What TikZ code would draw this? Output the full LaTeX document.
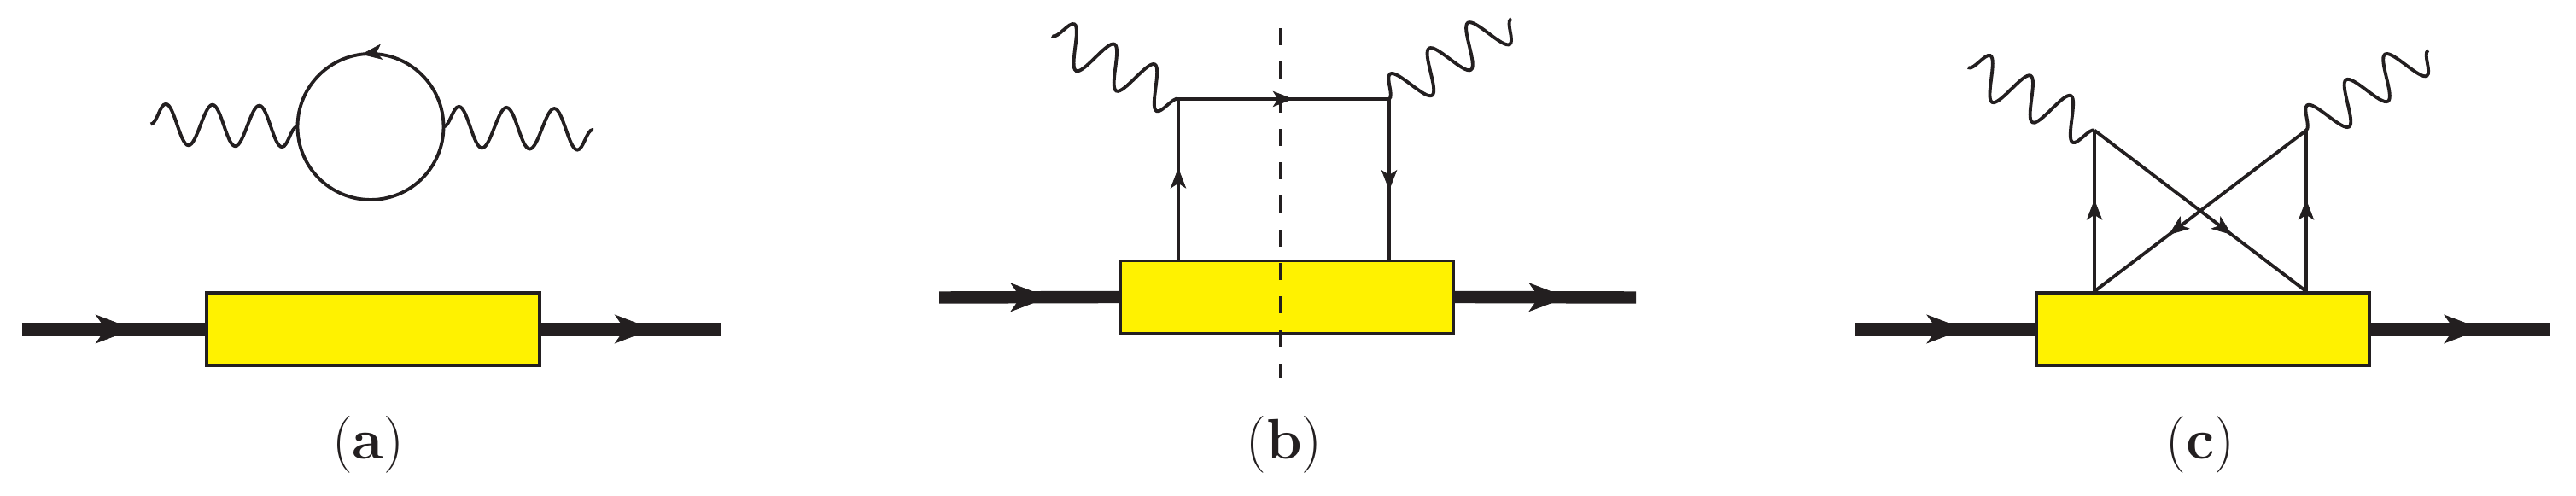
\documentclass[tikz,border=0pt]{standalone}
\usepackage{xcolor}
\usepackage{tikz}
\usetikzlibrary{arrows.meta,decorations.pathmorphing,decorations.markings}
\definecolor{inkblack}{RGB}{35,31,32}
\definecolor{blobyellow}{RGB}{255,242,0}
\tikzset{
  fermion/.style={draw=inkblack, line width=1.1pt, postaction={decorate},
    decoration={markings, mark=at position #1 with {\arrow{Stealth[length=2.4mm,width=1.85mm,inset=0.6mm,line width=0.2pt]}}}},
  fermion/.default=0.57,
  heavy/.style={draw=inkblack, line width=4.1pt, postaction={decorate},
    decoration={markings, mark=at position #1 with {\arrow{Stealth[length=4.5mm,width=3.4mm,inset=1.2mm,line width=0.2pt]}}}},
  heavy/.default=0.61,
  photon/.style={draw=inkblack, line width=1.1pt, decorate,
    decoration={snake, amplitude=2.4mm, segment length=#1}},
  blob/.style={draw=inkblack, line width=1pt, fill=blobyellow,
    minimum width=3.9cm, minimum height=0.85cm, inner sep=0pt},
  cut/.style={draw=inkblack, line width=0.95pt, dash pattern=on 2mm off 1.93mm},
  caption/.style={font=\fontsize{19}{23}\selectfont, text=inkblack}
}
\begin{document}
\begin{tikzpicture}
\useasboundingbox (0,0) rectangle (30.17,5.81);
% (a) photon self energy
\coordinate (inA) at (0.26,1.955);
\coordinate (outA) at (8.45,1.955);
\coordinate (vA1) at (3.485,4.325);
\coordinate (vA2) at (5.195,4.325);
\coordinate (pA1) at (1.766,4.355);
\coordinate (pA2) at (6.95,4.29);
\node[blob] (boxA) at (4.37,1.955) {};
\draw[heavy] (inA) -- (boxA.west);
\draw[heavy=0.62] (boxA.east) -- (outA);
\draw[fermion=0.27] (vA2) arc[start angle=0, end angle=360, radius=0.855];
\draw[photon=5.48mm] (pA1) -- (vA1);
\draw[photon=5.59mm] (vA2) -- (pA2);
\node[caption] (labA) at (4.31,0.60) {(\textbf{a})};
% (b) direct graph with cut
\coordinate (inB) at (11.0,2.325);
\coordinate (outB) at (19.16,2.325);
\coordinate (vB1) at (13.80,4.65);
\coordinate (vB2) at (16.27,4.65);
\coordinate (pB1) at (12.32,5.39);
\coordinate (pB2) at (17.70,5.59);
\node[blob] (boxB) at (15.07,2.33) {};
\draw[heavy] (inB) -- (boxB.west);
\draw[heavy=0.62] (boxB.east) -- (outB);
\draw[fermion] (vB1 |- boxB.north) -- (vB1);
\draw[fermion=0.545] (vB1) -- (vB2);
\draw[fermion] (vB2) -- (vB2 |- boxB.north);
\draw[photon=5.27mm] (vB1) -- (pB1);
\draw[photon=5.45mm] (vB2) -- (pB2);
\coordinate (cutTop) at (15.0,5.48);
\coordinate (cutBot) at (15.0,1.38);
\draw[cut] (cutTop) -- (cutBot);
\node[caption] (labB) at (15.04,0.60) {(\textbf{b})};
% (c) crossed graph
\coordinate (inC) at (21.73,1.955);
\coordinate (outC) at (29.87,1.955);
\coordinate (vC1) at (24.53,4.283);
\coordinate (vC2) at (27.01,4.283);
\coordinate (pC1) at (23.05,5.02);
\coordinate (pC2) at (28.44,5.22);
\node[blob] (boxC) at (25.80,1.955) {};
\draw[heavy] (inC) -- (boxC.west);
\draw[heavy=0.62] (boxC.east) -- (outC);
\draw[fermion] (vC1 |- boxC.north) -- (vC1);
\draw[fermion] (vC2 |- boxC.north) -- (vC2);
\draw[fermion=0.65] (vC1) -- (vC2 |- boxC.north);
\draw[fermion=0.65] (vC2) -- (vC1 |- boxC.north);
\draw[photon=5.27mm] (vC1) -- (pC1);
\draw[photon=5.45mm] (vC2) -- (pC2);
\node[caption] (labC) at (25.77,0.60) {(\textbf{c})};
\end{tikzpicture}
\end{document}
